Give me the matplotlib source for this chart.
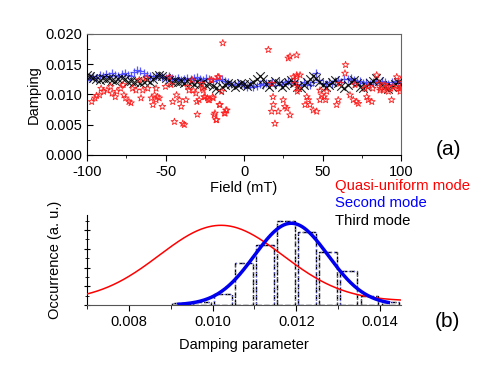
import numpy as np
import matplotlib
matplotlib.use("Agg")
import matplotlib.pyplot as plt
from matplotlib.ticker import MultipleLocator, FormatStrFormatter

plt.rcParams['font.family'] = ['Liberation Sans', 'DejaVu Sans']
plt.rcParams['font.size'] = 10
plt.rcParams['axes.unicode_minus'] = False

# (a) damping vs field
field = np.arange(-100, 101, 2)

third_mode = [0.0133, 0.0130, 0.0128, 0.0126, 0.0124, 0.0128, 0.0125, 0.0127, 0.0124, 0.0122,
              0.0126, 0.0128, 0.0125, 0.0121, 0.0123, 0.0120, 0.0122, 0.0119, 0.0121, 0.0124,
              0.0120, 0.0126, 0.0131, 0.0133, 0.0130, 0.0128, 0.0124, 0.0121, 0.0123, 0.0120,
              0.0122, 0.0119, 0.0122, 0.0120, 0.0117, 0.0121, 0.0118, 0.0120, 0.0116, 0.0118,
              0.0114, 0.0111, 0.0108, 0.0112, 0.0116, 0.0119, 0.0117, 0.0113, 0.0116, 0.0119,
              0.0117,
              0.0114, 0.0117, 0.0121, 0.0126, 0.0130, 0.0125, 0.0118, 0.0113, 0.0117, 0.0122,
              0.0119, 0.0113, 0.0116, 0.0121, 0.0124, 0.0119, 0.0113, 0.0111, 0.0116, 0.0121,
              0.0126, 0.0131, 0.0128, 0.0121, 0.0115, 0.0112, 0.0116, 0.0121, 0.0124, 0.0119,
              0.0114, 0.0111, 0.0115, 0.0120, 0.0124, 0.0119, 0.0113, 0.0110, 0.0114, 0.0119,
              0.0123, 0.0127, 0.0122, 0.0116, 0.0112, 0.0109, 0.0113, 0.0118, 0.0121, 0.0117]

second_mode = [0.0124, 0.0128, 0.0131, 0.0127, 0.0133, 0.0130, 0.0134, 0.0131, 0.0135, 0.0132,
               0.0130, 0.0134, 0.0136, 0.0133, 0.0131, 0.0137, 0.0141, 0.0139, 0.0136, 0.0133,
               0.0131, 0.0128, 0.0130, 0.0132, 0.0129, 0.0127, 0.0130, 0.0128, 0.0125, 0.0127,
               0.0124, 0.0126, 0.0128, 0.0125, 0.0127, 0.0129, 0.0126, 0.0124, 0.0127, 0.0125,
               0.0123, 0.0126, 0.0124, 0.0125, 0.0122, 0.0120, 0.0118, 0.0116, 0.0119, 0.0117,
               0.0115,
               0.0113, 0.0116, 0.0112, 0.0114, 0.0117, 0.0115, 0.0119, 0.0118, 0.0120, 0.0116,
               0.0121, 0.0118, 0.0120, 0.0123, 0.0119, 0.0122, 0.0118, 0.0116, 0.0120, 0.0118,
               0.0116, 0.0121, 0.0136, 0.0124, 0.0119, 0.0117, 0.0121, 0.0118, 0.0122, 0.0124,
               0.0121, 0.0126, 0.0125, 0.0127, 0.0124, 0.0120, 0.0122, 0.0119, 0.0121, 0.0118,
               0.0120, 0.0122, 0.0119, 0.0123, 0.0121, 0.0118, 0.0120, 0.0122, 0.0119, 0.0121]

quasi_field = [-97, -94.9, -94, -92, -91, -89.4, -87.3, -85, -84, -82, -81, -78.6, -76.5, -75.4,
               -73.3, -72, -77, -71, -68.8, -66.7, -65.6, -64.5, -62.4, -61.3, -59, -58, -57,
               -56, -55, -56, -54, -52, -50, -47.5, -46.5, -45.4, -44.3, -43, -41, -40, -39, -38,
               -37, -36, -35, -33, -30.7, -29.7, -28.6, -26.5, -25.4, -23.3, -22, -21, -20, -19,
               -17.8, -16.7, -15.7, -13.5, -12.5, -11.5, -32.3, -30, -27, -25.9, -24.8, -22.7,
               -19.6, -20.6, -18.5, -17.4, -15.3, -16, -12, -11, -14.2,
               15.5, 17.6, 18.7, 17.6, 19.7, 21.8, 25, 26, 27.2, 28.2, 29.3, 29.3, 31.4, 33.6,
               32.5, 34, 18.5, 33.5, 33.6, 34.6, 35.7, 40, 41, 38.9, 42, 44.1, 46.3, 48.4, 49.5,
               51, 52.7, 52, 48.4, 59, 60, 61, 64.3, 64.7, 67.5, 69.6, 71.8, 72.8, 70.7, 77,
               78.2, 79.2, 81.4, 84.5, 86, 87, 88.8, 89.9, 92, 94, 95, 98.3, 99.4, 100, 99.8,
               79, 82, 86.6, 91, 93.5, 97.3, 99.5]
quasi_damping = [0.0088, 0.0094, 0.0098, 0.0099, 0.0110, 0.0105, 0.0107, 0.0113, 0.0102, 0.0096,
                 0.0105, 0.0110, 0.0099, 0.0094, 0.0088, 0.0086, 0.0116, 0.0110, 0.0107, 0.0124,
                 0.0094, 0.0107, 0.0127, 0.0110, 0.0094, 0.0083, 0.0099, 0.0091, 0.0096, 0.0110,
                 0.0094, 0.0080, 0.0113, 0.0129, 0.0116, 0.0088, 0.0055, 0.0099, 0.0091, 0.0080,
                 0.0052, 0.0050, 0.0091, 0.0113, 0.0107, 0.0124, 0.0102, 0.0067, 0.0091, 0.0110,
                 0.0096, 0.0094, 0.0091, 0.0124, 0.0096, 0.0066, 0.0058, 0.0129, 0.0083, 0.0185,
                 0.0069, 0.0074, 0.0107, 0.0088, 0.0118, 0.0107, 0.0096, 0.0091, 0.0094, 0.0124,
                 0.0069, 0.0058, 0.0083, 0.0129, 0.0069, 0.0074, 0.0105,
                 0.0174, 0.0118, 0.0083, 0.0072, 0.0052, 0.0072, 0.0091, 0.0080, 0.0077, 0.0160,
                 0.0163, 0.0066, 0.0129, 0.0132, 0.0118, 0.0105, 0.0096, 0.0165, 0.0129, 0.0110,
                 0.0132, 0.0096, 0.0091, 0.0083, 0.0083, 0.0074, 0.0072, 0.0091, 0.0099, 0.0096,
                 0.0105, 0.0091, 0.0107, 0.0083, 0.0091, 0.0118, 0.0135, 0.0149, 0.0099, 0.0091,
                 0.0088, 0.0085, 0.0116, 0.0110, 0.0096, 0.0091, 0.0088, 0.0132, 0.0118, 0.0110,
                 0.0107, 0.0116, 0.0105, 0.0091, 0.0113, 0.0110, 0.0105, 0.0113, 0.0124,
                 0.0113, 0.0110, 0.0107, 0.0113, 0.0110, 0.0129, 0.0110]

# (b) histogram of damping parameter + gaussian fits
bin_centers = [0.00925, 0.00975, 0.01025, 0.01075, 0.01125, 0.01175,
               0.01225, 0.01275, 0.01325, 0.01375, 0.01425]
occurrence = [0.13, 0.16, 0.57, 2.22, 3.19, 4.48, 3.90, 2.84, 1.81, 0.49, 0.14]

# fit parameters (center, width, amplitude, offset)
fit_second = (0.01188, 0.00088, 4.36, 0.0)
fit_quasi = (0.0102, 0.00147, 4.04, 0.21)


def gauss(x, p):
    xc, w, a, y0 = p
    return y0 + a * np.exp(-(x - xc) ** 2 / (2 * w ** 2))


fig = plt.figure(figsize=(4.91, 3.73), dpi=100)

ax1 = fig.add_axes([0.1772, 0.5845, 0.6395, 0.3244])
ax1.scatter(field, second_mode, marker='+', s=40, color='#3c3cff', linewidths=0.9, alpha=0.85, zorder=2)
ax1.scatter(field, third_mode, marker='x', s=38, color='black', linewidths=0.8, alpha=0.85, zorder=3)
ax1.scatter(quasi_field, quasi_damping, marker='*', s=26, facecolors='none', edgecolors='#ff2020',
            linewidths=0.6, zorder=4)
ax1.set_xlim(-100, 100)
ax1.set_ylim(0, 0.020)
ax1.xaxis.set_major_locator(MultipleLocator(50))
ax1.xaxis.set_minor_locator(MultipleLocator(25))
ax1.yaxis.set_major_locator(MultipleLocator(0.005))
ax1.yaxis.set_minor_locator(MultipleLocator(0.0025))
ax1.yaxis.set_major_formatter(FormatStrFormatter('%.3f'))
ax1.tick_params(axis='x', which='both', direction='out', top=False)
ax1.tick_params(axis='y', which='both', direction='in', right=False)
ax1.tick_params(which='major', length=4, labelsize=10.5)
ax1.tick_params(which='minor', length=2.5)
for s in ['top', 'right']:
    ax1.spines[s].set_color('#666666')
ax1.set_xlabel('Field (mT)', fontsize=10.5, labelpad=1)
ax1.set_ylabel('Damping', fontsize=10.5, labelpad=3)

ax2 = fig.add_axes([0.1772, 0.1823, 0.6395, 0.2413])
ax2.bar(bin_centers, occurrence, width=0.00042, fill=False, edgecolor='black',
        linestyle=(0, (4, 1.5)), linewidth=1.0, zorder=2)
ax2.bar(bin_centers, occurrence, width=0.00042, fill=False, edgecolor='#7777ff',
        linestyle=(0, (1, 2)), linewidth=0.8, zorder=2)
xr = np.linspace(0.007, 0.0145, 300)
ax2.plot(xr, gauss(xr, fit_quasi), color='red', lw=1.1, zorder=3)
xb = np.linspace(0.0092, 0.0142, 300)
ax2.plot(xb, gauss(xb, fit_second), color='#0000ee', lw=2.5, zorder=4)
ax2.set_xlim(0.007, 0.0145)
ax2.set_ylim(0, 4.8)
ax2.xaxis.set_major_locator(MultipleLocator(0.002))
ax2.xaxis.set_minor_locator(MultipleLocator(0.001))
ax2.xaxis.set_major_formatter(FormatStrFormatter('%.3f'))
ax2.yaxis.set_major_locator(MultipleLocator(1))
ax2.yaxis.set_minor_locator(MultipleLocator(0.5))
ax2.tick_params(axis='y', which='both', direction='inout', labelleft=False)
ax2.tick_params(axis='x', which='both', direction='out')
ax2.tick_params(which='major', length=4, labelsize=10.5)
ax2.tick_params(which='minor', length=3)
ax2.spines['top'].set_visible(False)
ax2.spines['right'].set_visible(False)
ax2.spines['bottom'].set_color('#555555')
ax2.set_xlabel('Damping parameter', fontsize=10.5, labelpad=6)
ax2.set_ylabel('Occurrence (a. u.)', fontsize=10.5, labelpad=16)

fig.text(0.682, 0.5013, 'Quasi-uniform mode', color='red', fontsize=10.7, va='center')
fig.text(0.682, 0.4558, 'Second mode', color='blue', fontsize=10.7, va='center')
fig.text(0.682, 0.4075, 'Third mode', color='black', fontsize=10.7, va='center')
fig.text(0.888, 0.598, '(a)', fontsize=15, va='center')
fig.text(0.886, 0.137, '(b)', fontsize=15, va='center')

fig.savefig('out.png', dpi=100)
